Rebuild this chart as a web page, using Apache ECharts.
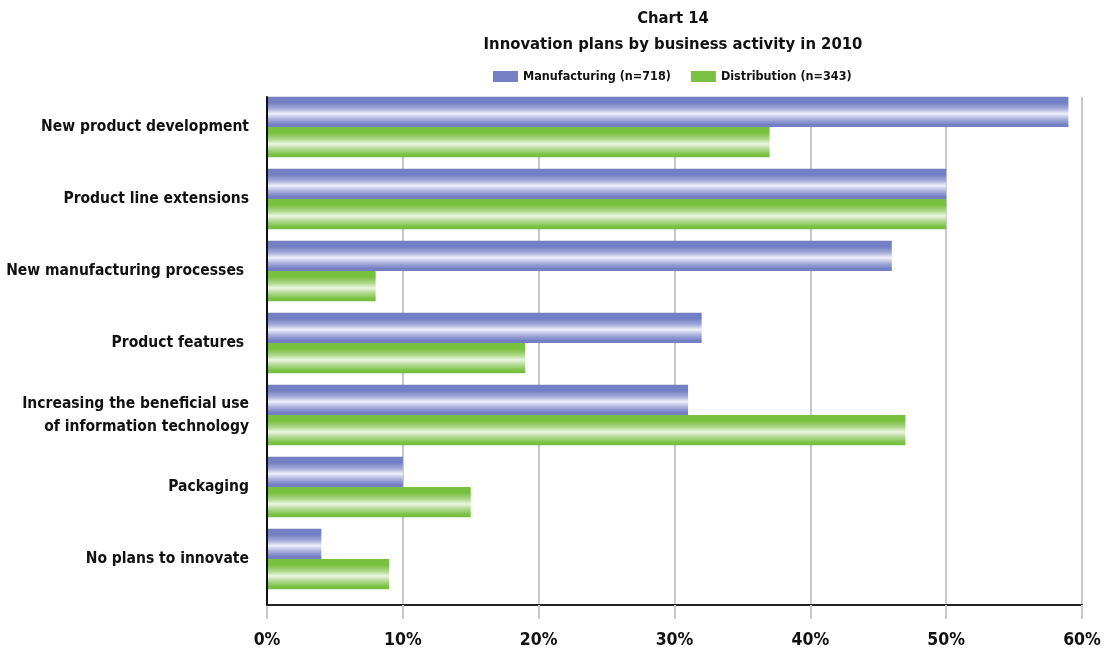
<!DOCTYPE html>
<html>
<head>
<meta charset="utf-8">
<script src="https://cdn.jsdelivr.net/npm/echarts@6/dist/echarts.min.js"></script>
<style>
  html, body { margin: 0; padding: 0; background: #fff; }
  #chart { width: 1111px; height: 650px; }
</style>
</head>
<body>
<div id="chart"></div>
<script>
// Innovation plans by business activity, share of respondents (%)
const categories = [
  'New product development',
  'Product line extensions',
  'New manufacturing processes ',
  'Product features ',
  'Increasing the beneficial use\nof information technology',
  'Packaging',
  'No plans to innovate'
];
const manufacturing = [59, 50, 46, 32, 31, 10, 4];
const distribution = [37, 50, 8, 19, 47, 15, 9];
const xTicks = [0, 10, 20, 30, 40, 50, 60];

const FONT = '"DejaVu Sans Condensed", "Liberation Sans Narrow", sans-serif';

// cylinder-like shading across each bar's thickness
function barGradient(edge, mid, light) {
  return new echarts.graphic.LinearGradient(0, 0, 0, 1, [
    { offset: 0, color: edge },
    { offset: 0.2, color: edge },
    { offset: 0.4, color: mid },
    { offset: 0.56, color: light },
    { offset: 0.74, color: mid },
    { offset: 0.92, color: edge },
    { offset: 1, color: edge }
  ]);
}

const chart = echarts.init(document.getElementById('chart'), null, { renderer: 'canvas' });

chart.setOption({
  animation: false,
  backgroundColor: '#ffffff',
  title: {
    text: 'Chart 14\nInnovation plans by business activity in 2010',
    left: 668,
    textAlign: 'center',
    top: 1,
    textStyle: {
      fontFamily: FONT,
      fontWeight: 'bold',
      fontSize: 16.5,
      lineHeight: 26,
      color: '#111'
    }
  },
  legend: {
    top: 65,
    left: 488,
    itemWidth: 25,
    itemHeight: 11,
    itemGap: 20,
    itemStyle: { borderWidth: 0 },
    textStyle: { fontFamily: FONT, fontWeight: 'bold', fontSize: 12.5, color: '#111' },
    data: [
      { name: 'Manufacturing (n=718)', icon: 'rect', itemStyle: { color: '#7581c4' } },
      { name: 'Distribution (n=343)', icon: 'rect', itemStyle: { color: '#79c143' } }
    ]
  },
  grid: [
    // frame: value axis, gridlines and axis lines
    { left: 267, right: 29, top: 97, bottom: 45, outerBoundsMode: 'none' },
    // bars
    { left: 267, right: 29, top: 91, height: 504, outerBoundsMode: 'none' }
  ],
  xAxis: [
    {
      gridIndex: 0,
      type: 'value',
      min: xTicks[0],
      max: xTicks[xTicks.length - 1],
      interval: 10,
      axisLine: { show: true, onZero: false, lineStyle: { color: '#222', width: 2 } },
      axisTick: { show: true, length: 14, lineStyle: { color: '#c8c8c8', width: 2 } },
      splitLine: { show: true, lineStyle: { color: '#c8c8c8', width: 2 } },
      axisLabel: {
        margin: 26,
        fontFamily: FONT,
        fontWeight: 'bold',
        fontSize: 17.5,
        color: '#111',
        formatter: v => v + '%'
      }
    },
    {
      gridIndex: 1,
      type: 'value',
      min: xTicks[0],
      max: xTicks[xTicks.length - 1],
      show: false
    }
  ],
  yAxis: [
    {
      gridIndex: 0,
      type: 'category',
      data: categories,
      inverse: true,
      z: 3,
      axisLine: { show: true, lineStyle: { color: '#111', width: 2 } },
      axisTick: { show: false },
      axisLabel: { show: false },
      splitLine: { show: false }
    },
    {
      gridIndex: 1,
      type: 'category',
      data: categories,
      inverse: true,
      axisLine: { show: false },
      axisTick: { show: false },
      axisLabel: {
        margin: 18,
        align: 'right',
        fontFamily: FONT,
        fontWeight: 'bold',
        fontSize: 15.5,
        lineHeight: 23,
        color: '#111'
      }
    }
  ],
  series: [
    {
      name: 'Manufacturing (n=718)',
      type: 'bar',
      xAxisIndex: 1,
      yAxisIndex: 1,
      data: manufacturing,
      barGap: '0%',
      barCategoryGap: '16%',
      itemStyle: { color: barGradient('#737fc3', '#a7aedc', '#f0f1fa') }
    },
    {
      name: 'Distribution (n=343)',
      type: 'bar',
      xAxisIndex: 1,
      yAxisIndex: 1,
      data: distribution,
      barGap: '0%',
      barCategoryGap: '16%',
      itemStyle: { color: barGradient('#78c040', '#acd88a', '#eaf5e0') }
    }
  ]
});
</script>
</body>
</html>
